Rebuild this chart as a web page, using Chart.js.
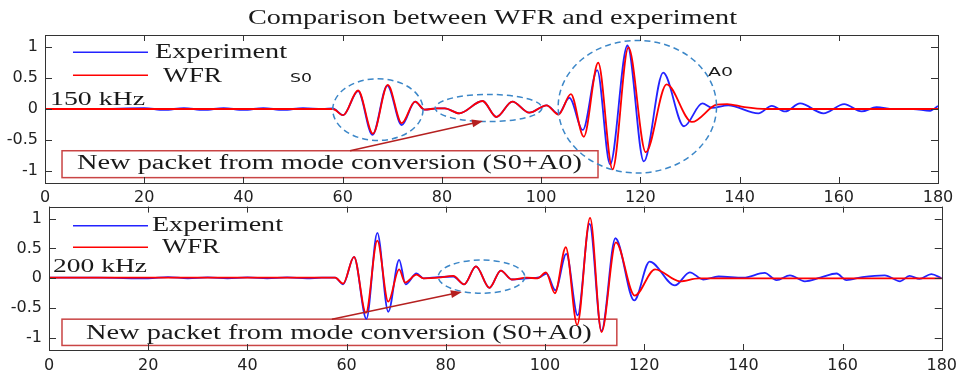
<!DOCTYPE html>
<html lang="en">
<head>
<meta charset="UTF-8">
<title>Comparison between WFR and experiment</title>
<style>
  body { margin: 0; background: #fff; }
  #wrap { position: relative; width: 963px; height: 371px; overflow: hidden; }
  canvas { position: absolute; left: 0; }
  #top { top: 0; }
  #bottom { top: 190px; }
</style>
</head>
<body>
<div id="wrap">
  <canvas id="top" width="963" height="215"></canvas>
  <canvas id="bottom" width="963" height="181"></canvas>
</div>

<script src="https://cdn.jsdelivr.net/npm/chart.js@4.4.2/dist/chart.umd.min.js"></script>
<script>
  // ---- data (time axis 0..180, normalised amplitude) ----
  var seriesNames = ['Experiment', 'WFR'];
  var xTicks = [0, 20, 40, 60, 80, 100, 120, 140, 160, 180];
  var yTicks = [-1, -0.5, 0, 0.5, 1];

  // 150 kHz panel
  var topExpTime = [0, 10, 20, 24, 28, 32, 36, 40, 44, 48, 52, 56, 58,
    60.1, 63.1, 66.0, 69.0, 71.9, 74.6, 76.5, 79,
    80.6, 83.5, 88.2, 91.0, 94.2, 97.6, 101.1, 103.5,
    105.7, 108.4, 111.3, 113.9, 117.4, 120.7, 124.6, 128.8, 132.5, 134.4,
    137.7, 143.8, 146.5, 149.2, 152.2, 156.9, 161.1, 164.6, 167.6, 171, 175, 178.4, 180];
  var topExp = [0, 0, 0.015, -0.015, 0.015, -0.015, 0.015, -0.015, 0.015, -0.015, 0.015, 0, 0.01,
    -0.10, 0.29, -0.42, 0.38, -0.26, 0.12, -0.01, 0.01,
    0.01, -0.07, 0.13, -0.13, 0.12, -0.06, 0.06, -0.08,
    0.18, -0.34, 0.63, -0.90, 1.03, -0.85, 0.59, -0.28, 0.09, 0.02,
    0.06, -0.07, 0.05, -0.04, 0.09, -0.07, 0.08, -0.04, 0.03, 0, 0, -0.03, 0.05];
  var topWfrTime = [0, 58, 60.1, 63.1, 66.1, 69.1, 71.9, 74.6, 76.5, 79,
    80.6, 83.5, 88.2, 91.0, 94.2, 97.6, 101.1, 103.5,
    106.0, 108.6, 111.5, 114.4, 117.6, 121.1, 125.3, 130.4, 135.4, 137.5,
    141, 145.5, 180];
  var topWfr = [0, 0, -0.10, 0.30, -0.40, 0.39, -0.23, 0.12, -0.01, 0.01,
    0.01, -0.07, 0.13, -0.13, 0.12, -0.06, 0.06, -0.09,
    0.24, -0.45, 0.75, -0.98, 1.0, -0.70, 0.40, -0.21, 0.07, 0.08,
    0.03, 0, 0];

  // 200 kHz panel
  var botExpTime = [0, 10, 20, 24, 28, 32, 36, 40, 44, 48,
    52, 55, 57.7, 59.3, 61.5, 64.0, 66.2, 68.4, 70.6, 71.9,
    74.1, 75.5, 78.5, 81.5, 83.7, 86.1, 88.8, 91.1, 93.3, 96.3,
    99, 100.3, 102.1, 104.3, 106.6, 109.0, 111.4, 114.2, 118.0, 121.1,
    126.2, 129.2, 131.9, 135, 140, 144.3, 146.7, 149.4, 152.4, 155.5,
    158.8, 160.8, 164, 168.5, 171.6, 173.5, 175.5, 177.9, 180];
  var botExp = [0.01, 0.01, 0, 0.02, 0, 0.015, 0, 0.015, 0, 0.015,
    0, 0.01, 0.01, -0.10, 0.36, -0.68, 0.76, -0.56, 0.31, -0.10,
    0.08, 0, 0.02, 0.03, -0.10, 0.20, -0.16, 0.13, -0.02, 0,
    0.02, 0.08, -0.20, 0.41, -0.62, 0.91, -0.88, 0.67, -0.37, 0.28,
    -0.12, 0.10, -0.02, 0.03, 0.01, 0.09, -0.03, 0.05, -0.05, 0.01,
    0.08, -0.03, 0.02, 0.05, -0.05, 0.04, -0.01, 0.07, 0];
  var botWfrTime = [0, 57.7, 59.3, 61.5, 63.9, 66.2, 68.4, 70.6, 71.8, 74.1,
    75.5, 78.5, 81.5, 83.7, 86.1, 88.8, 91.1, 93.3, 96.3, 98.5,
    100.2, 102.0, 104.2, 106.5, 109.1, 111.4, 114.3, 118.1, 122.2, 127.2,
    131, 180];
  var botWfr = [0.01, 0.01, -0.09, 0.36, -0.58, 0.63, -0.39, 0.15, -0.07, 0.06,
    0, 0.01, 0.04, -0.10, 0.20, -0.16, 0.13, -0.02, 0.01, 0,
    0.10, -0.25, 0.52, -0.78, 1.01, -0.90, 0.60, -0.29, 0.15, -0.05,
    0, 0];

  var BLUE = 'rgb(35,35,255)';
  var RED = 'rgb(255,0,0)';
  var DARK = '#1a1a1a';
  var SERIF = '"Liberation Serif", "Times New Roman", serif';

  var pairs = function (xs, ys) {
    return xs.map(function (x, i) { return { x: x, y: ys[i] }; });
  };

  // draws text squeezed/stretched between x0 and x1 (the figure is stretched sideways)
  var fitText = function (ctx, text, x0, x1, cy, font, color) {
    ctx.save();
    ctx.font = font;
    var w = ctx.measureText(text).width;
    ctx.translate(x0, cy);
    ctx.scale((x1 - x0) / w, 1);
    ctx.textAlign = 'left';
    ctx.textBaseline = 'middle';
    ctx.fillStyle = color || DARK;
    ctx.fillText(text, 0, 0);
    ctx.restore();
  };

  var makePanel = function (id, exp, wfr, notes, layout) {
    var panelPlugin = {
      id: 'panel',
      beforeDatasetsDraw: function (chart) {
        var ctx = chart.ctx, sx = chart.scales.x, sy = chart.scales.y;
        var X = function (v) { return sx.getPixelForValue(v); };
        var Y = function (v) { return sy.getPixelForValue(v); };
        var b = notes.box;
        ctx.save();
        ctx.fillStyle = '#fff';
        ctx.strokeStyle = '#c94444';
        ctx.lineWidth = 1.5;
        ctx.fillRect(X(b.x0), Y(b.y0), X(b.x1) - X(b.x0), Y(b.y1) - Y(b.y0));
        ctx.strokeRect(X(b.x0), Y(b.y0), X(b.x1) - X(b.x0), Y(b.y1) - Y(b.y0));
        ctx.restore();
        fitText(ctx, b.text, X(b.tx0), X(b.tx1), Y(b.ty), '20px ' + SERIF);
      },
      afterDatasetsDraw: function (chart) {
        var ctx = chart.ctx, a = chart.chartArea, sx = chart.scales.x, sy = chart.scales.y;
        var X = function (v) { return sx.getPixelForValue(v); };
        var Y = function (v) { return sy.getPixelForValue(v); };

        // dashed ellipses round the wave packets
        ctx.save();
        ctx.strokeStyle = 'rgb(60,135,200)';
        ctx.lineWidth = 1.5;
        ctx.setLineDash([6, 4]);
        notes.ellipses.forEach(function (e) {
          ctx.beginPath();
          ctx.ellipse(X(e.x), Y(e.y), X(e.x + e.rx) - X(e.x), Y(e.y) - Y(e.y + e.ry), 0, 0, Math.PI * 2);
          ctx.stroke();
        });
        ctx.restore();

        // arrow from box to packet
        var ar = notes.arrow;
        var x0 = X(ar.x0), y0 = Y(ar.y0), x1 = X(ar.x1), y1 = Y(ar.y1);
        var ang = Math.atan2(y1 - y0, x1 - x0);
        ctx.save();
        ctx.strokeStyle = '#b52020';
        ctx.fillStyle = '#b52020';
        ctx.lineWidth = 1.5;
        ctx.beginPath();
        ctx.moveTo(x0, y0);
        ctx.lineTo(x1 - 8 * Math.cos(ang), y1 - 8 * Math.sin(ang));
        ctx.stroke();
        ctx.beginPath();
        ctx.moveTo(x1, y1);
        ctx.lineTo(x1 - 11 * Math.cos(ang) + 4 * Math.sin(ang), y1 - 11 * Math.sin(ang) - 4 * Math.cos(ang));
        ctx.lineTo(x1 - 11 * Math.cos(ang) - 4 * Math.sin(ang), y1 - 11 * Math.sin(ang) + 4 * Math.cos(ang));
        ctx.closePath();
        ctx.fill();
        ctx.restore();

        // box frame with inward ticks
        ctx.save();
        ctx.strokeStyle = '#333';
        ctx.lineWidth = 1;
        ctx.strokeRect(Math.round(a.left) + 0.5, Math.round(a.top) + 0.5, Math.round(a.width), Math.round(a.height));
        ctx.beginPath();
        sx.ticks.forEach(function (t) {
          var p = Math.round(X(t.value)) + 0.5;
          ctx.moveTo(p, a.bottom); ctx.lineTo(p, a.bottom - 6);
          ctx.moveTo(p, a.top); ctx.lineTo(p, a.top + 6);
        });
        sy.ticks.forEach(function (t) {
          var p = Math.round(Y(t.value)) + 0.5;
          ctx.moveTo(a.left, p); ctx.lineTo(a.left + 7, p);
          ctx.moveTo(a.right, p); ctx.lineTo(a.right - 7, p);
        });
        ctx.stroke();
        ctx.restore();

        // legend in the upper-left corner
        var lg = notes.legend;
        ctx.save();
        ctx.lineWidth = 1.5;
        [BLUE, RED].forEach(function (c, i) {
          ctx.strokeStyle = c;
          ctx.beginPath();
          ctx.moveTo(X(lg.lx0), Y(lg.ly[i]));
          ctx.lineTo(X(lg.lx1), Y(lg.ly[i]));
          ctx.stroke();
          fitText(ctx, seriesNames[i], X(lg.tx0[i]), X(lg.tx1[i]), Y(lg.ty[i]), '20px ' + SERIF);
        });
        ctx.restore();

        // free labels
        notes.labels.forEach(function (l) {
          fitText(ctx, l.text, X(l.x0), X(l.x1), Y(l.y), l.font);
        });

        if (notes.title) {
          fitText(ctx, notes.title, 248, 737, 18, '21px ' + SERIF);
        }
      }
    };

    return new Chart(document.getElementById(id), {
      type: 'line',
      data: {
        datasets: [
          {
            label: seriesNames[0],
            data: exp,
            borderColor: BLUE,
            borderWidth: 1.8,
            pointRadius: 0,
            cubicInterpolationMode: 'monotone',
            order: 2
          },
          {
            label: seriesNames[1],
            data: wfr,
            borderColor: RED,
            borderWidth: 1.8,
            pointRadius: 0,
            cubicInterpolationMode: 'monotone',
            order: 1
          }
        ]
      },
      options: {
        responsive: false,
        animation: false,
        layout: { padding: layout.padding },
        plugins: {
          legend: { display: false },
          title: { display: false },
          tooltip: { enabled: false }
        },
        scales: {
          x: {
            type: 'linear',
            min: 0,
            max: 180,
            afterBuildTicks: function (s) { s.ticks = xTicks.map(function (v) { return { value: v }; }); },
            afterFit: function (s) { s.height = layout.xHeight; },
            grid: { display: false, drawTicks: false },
            border: { display: false },
            ticks: {
              color: '#222',
              padding: layout.xPad,
              maxRotation: 0,
              autoSkip: false,
              font: { family: 'DejaVu Sans', size: 16 }
            }
          },
          y: {
            min: -1.2,
            max: 1.2,
            afterBuildTicks: function (s) { s.ticks = yTicks.map(function (v) { return { value: v }; }); },
            afterFit: function (s) { s.width = layout.yWidth; },
            grid: { display: false, drawTicks: false },
            border: { display: false },
            ticks: {
              color: '#222',
              padding: 7,
              font: { family: 'DejaVu Sans', size: 16 },
              callback: function (v) { return String(v); }
            }
          }
        }
      },
      plugins: [panelPlugin]
    });
  };

  var boxText = 'New packet from mode conversion (S0+A0)';

  makePanel('top', pairs(topExpTime, topExp), pairs(topWfrTime, topWfr), {
    title: 'Comparison between WFR and experiment',
    box: { x0: 3.43, x1: 111.47, y0: -0.677, y1: -1.113, text: boxText, tx0: 6.45, tx1: 108.24, ty: -0.895 },
    arrow: { x0: 61.48, y0: -0.677, x1: 88.29, y1: -0.194 },
    ellipses: [
      { x: 67.1, y: -0.01, rx: 9.1, ry: 0.5 },
      { x: 89.4, y: 0.016, rx: 10.75, ry: 0.22 },
      { x: 119.4, y: 0.037, rx: 15.96, ry: 1.075 }
    ],
    legend: { lx0: 5.64, lx1: 20.76, ly: [0.919, 0.548], tx0: [22.17, 23.79], tx1: [48.78, 35.68], ty: [0.92, 0.516] },
    labels: [
      { text: '150 kHz', x0: 1.01, x1: 20.16, y: 0.145, font: '19px ' + SERIF },
      { text: 'S0', x0: 49.39, x1: 53.82, y: 0.49, font: '12px "DejaVu Sans"' },
      { text: 'A0', x0: 133.64, x1: 138.68, y: 0.589, font: '13px "DejaVu Sans"' }
    ]
  }, { padding: { left: 0, top: 35, right: 25, bottom: 0 }, yWidth: 45, xHeight: 32, xPad: 5 });

  makePanel('bottom', pairs(botExpTime, botExp), pairs(botWfrTime, botWfr), {
    box: { x0: 2.62, x1: 114.49, y0: -0.684, y1: -1.124, text: boxText, tx0: 7.46, tx1: 109.45, ty: -0.92 },
    arrow: { x0: 57.04, y0: -0.684, x1: 83.25, y1: -0.228 },
    ellipses: [
      { x: 87.2, y: 0.028, rx: 8.73, ry: 0.277 }
    ],
    legend: { lx0: 4.84, lx1: 19.96, ly: [0.879, 0.521], tx0: [20.76, 22.78], tx1: [47.17, 34.47], ty: [0.879, 0.505] },
    labels: [
      { text: '200 kHz', x0: 0.81, x1: 19.75, y: 0.195, font: '19px ' + SERIF }
    ]
  }, { padding: { left: 0, top: 14, right: 21, bottom: 0 }, yWidth: 49, xHeight: 21, xPad: 6 });
</script>
</body>
</html>
